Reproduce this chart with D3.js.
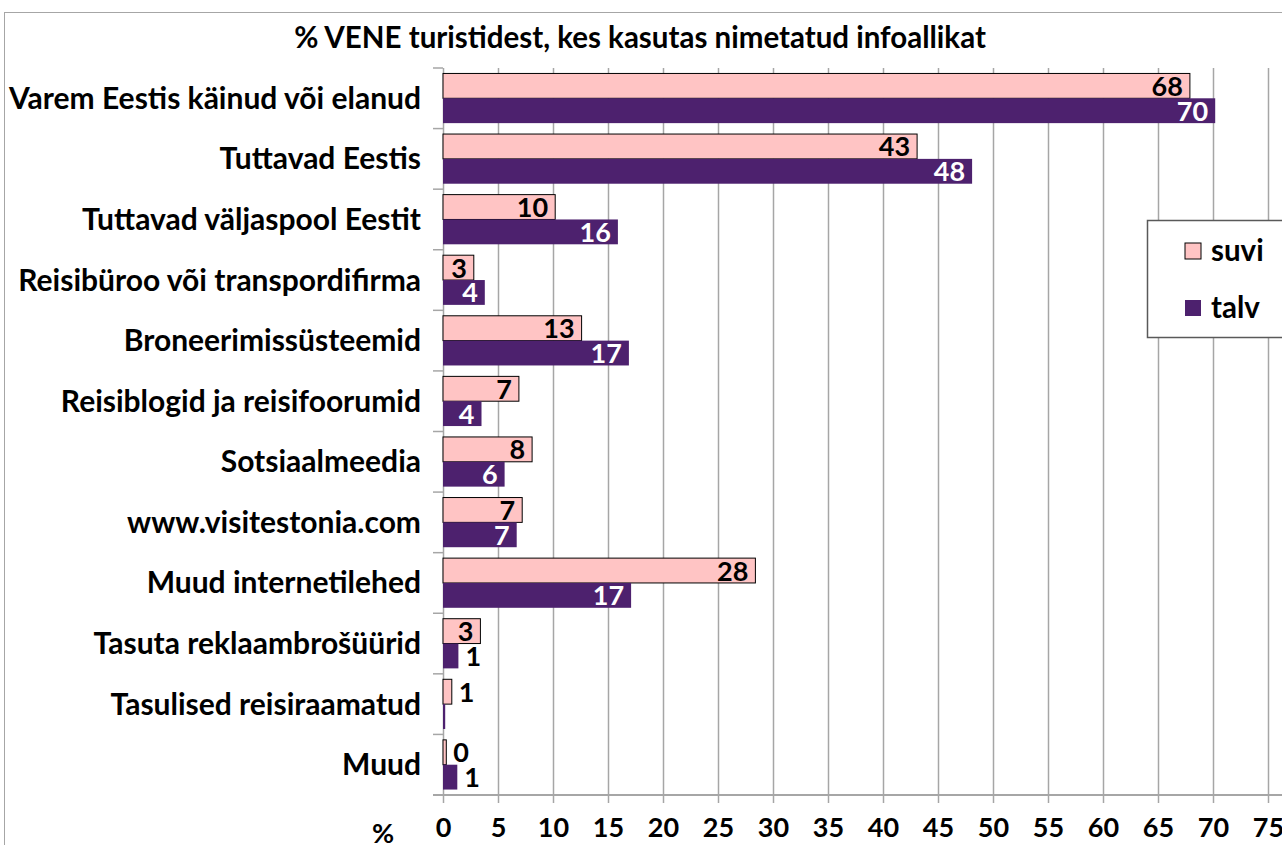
<!DOCTYPE html>
<html><head><meta charset="utf-8">
<script src="https://cdn.jsdelivr.net/npm/d3@7"></script>
<style>body{margin:0;background:#fff;overflow:hidden}svg{display:block;font-family:Lato,"Open Sans",sans-serif;font-weight:bold}</style>
</head><body>
<script>
const categories = ["Varem Eestis käinud või elanud","Tuttavad Eestis","Tuttavad väljaspool Eestit","Reisibüroo või transpordifirma","Broneerimissüsteemid","Reisiblogid ja reisifoorumid","Sotsiaalmeedia","www.visitestonia.com","Muud internetilehed","Tasuta reklaambrošüürid","Tasulised reisiraamatud","Muud"];
const suvi = [67.9,43.1,10.2,2.8,12.6,6.9,8.1,7.2,28.4,3.4,0.8,0.3];
const talv = [70.2,48.1,15.9,3.8,16.9,3.5,5.6,6.7,17.1,1.4,0.2,1.3];
const seriesNames = ["suvi","talv"];
const colors = ["#FFC4C4","#4D216E"];
const ticks = d3.range(0,80,5);
const title = "% VENE turistidest, kes kasutas nimetatud infoallikat";

const W=1282,H=845;
const svg=d3.select("body").append("svg").attr("width",W).attr("height",H);
svg.append("rect").attr("x",4.5).attr("y",12.5).attr("width",W+10).attr("height",H+10).attr("fill","#fff").attr("stroke","#A6A6A6");

const x=d3.scaleLinear().domain([0,75]).range([443,1268]);
const y=d3.scaleBand().domain(categories).range([68,795]).paddingInner(0.18).paddingOuter(0.09);
const yi=d3.scaleBand().domain(seriesNames).range([0,y.bandwidth()]);

// gridlines
svg.append("g").selectAll("line").data(ticks.slice(1)).join("line")
 .attr("x1",d=>x(d)+0.5).attr("x2",d=>x(d)+0.5).attr("y1",68).attr("y2",803)
 .attr("stroke","#A6A6A6").attr("stroke-width",1.5);
// left axis
svg.append("line").attr("x1",443.5).attr("x2",443.5).attr("y1",68).attr("y2",803).attr("stroke","#A6A6A6").attr("stroke-width",1.5);
const step=(795-68)/categories.length;
svg.append("g").selectAll("line").data(d3.range(categories.length+1)).join("line")
 .attr("x1",433).attr("x2",443).attr("y1",d=>68+d*step).attr("y2",d=>68+d*step)
 .attr("stroke","#A6A6A6").attr("stroke-width",1.5);
svg.append("line").attr("x1",433).attr("x2",1282).attr("y1",795).attr("y2",795).attr("stroke","#A6A6A6").attr("stroke-width",2);

// x tick labels
const xAxis=d3.axisBottom(x).tickValues(ticks).tickSize(0).tickPadding(0);
const gx=svg.append("g").attr("transform","translate(0,818)").call(xAxis);
gx.select(".domain").remove();
gx.selectAll("text").attr("font-size",27).attr("font-family","Lato,sans-serif").attr("font-weight","bold").attr("fill","#000").attr("dy","0.71em");
svg.append("text").attr("x",383).attr("y",843).attr("text-anchor","middle").attr("font-size",27).text("%");

// category labels
svg.append("g").selectAll("text").data(categories).join("text")
 .attr("x",421).attr("y",d=>y(d)+y.bandwidth()/2).attr("dy","0.35em").attr("text-anchor","end")
 .attr("font-size",30).text(d=>d);

// bars
const data=categories.map((c,i)=>({c,vals:[suvi[i],talv[i]]}));
const g=svg.append("g").selectAll("g").data(data).join("g").attr("transform",d=>`translate(0,${y(d.c)})`);
g.selectAll("rect").data(d=>d.vals.map((v,j)=>({v,j}))).join("rect")
 .attr("x",x(0)).attr("y",d=>yi(seriesNames[d.j])).attr("height",yi.bandwidth())
 .attr("width",d=>x(d.v)-x(0)).attr("fill",d=>colors[d.j])
 .attr("stroke",d=>d.j===0?"#000":"none").attr("stroke-width",1);
const fmt=d3.format(".0f");
g.selectAll("text").data(d=>d.vals.map((v,j)=>({v,j})).filter(d=>d.v>=0.25)).join("text")
 .attr("x",d=>d.v<2?x(d.v)+7:x(d.v)-7)
 .attr("text-anchor",d=>d.v<2?"start":"end")
 .attr("y",d=>yi(seriesNames[d.j])+yi.bandwidth()/2).attr("dy","0.37em")
 .attr("font-size",27).attr("fill",d=>d.j===1&&d.v>=2?"#fff":"#000").text(d=>fmt(d.v));

// title
svg.append("text").attr("x",640).attr("y",48).attr("text-anchor","middle").attr("font-size",29.5).text(title);

// legend
const lg=svg.append("g");
lg.append("rect").attr("x",1147.5).attr("y",220.5).attr("width",150).attr("height",117).attr("fill","#fff").attr("stroke","#595959").attr("stroke-width",1.5);
seriesNames.forEach((s,i)=>{
 const yy=[251,308][i];
 lg.append("rect").attr("x",1185).attr("y",yy-8).attr("width",16).attr("height",16).attr("fill",colors[i]).attr("stroke",i===0?"#000":"none");
 lg.append("text").attr("x",1211).attr("y",yy).attr("dy","0.35em").attr("font-size",29.5).text(s);
});
</script>
</body></html>
